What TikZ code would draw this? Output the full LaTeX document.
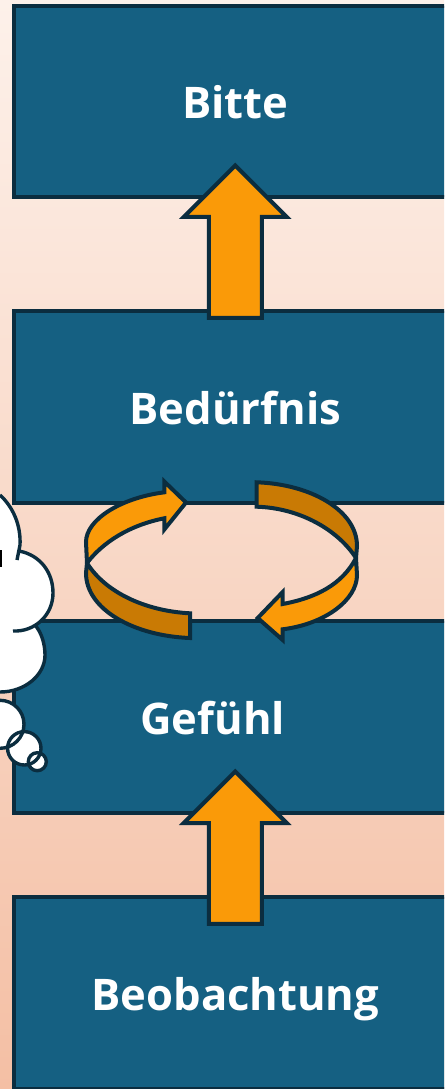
\documentclass[tikz,border=0pt]{standalone}
\usepackage{fontspec}
\setmainfont{Open Sans}
\usetikzlibrary{arrows.meta,positioning,shapes.arrows}
\definecolor{boxblue}{HTML}{156082}
\definecolor{darkline}{HTML}{0B2D3F}
\definecolor{arrorange}{HTML}{FA9A08}
\definecolor{arrdark}{HTML}{C97A04}
\definecolor{bgtop}{HTML}{FDF1EA}
\definecolor{bgbottom}{HTML}{F4BFA4}

\begin{document}
\begin{tikzpicture}[
			x=0.02cm,y=-0.02cm,
			level/.style={draw=darkline,line width=0.08cm,fill=boxblue,text=white,font=\fontsize{24.8}{28}\selectfont\bfseries,minimum width=8.85cm,minimum height=3.83cm,text height=0.68cm,text depth=0cm,inner sep=0pt,outer sep=0pt},
			uparr/.style={single arrow,draw=darkline,line width=0.08cm,fill=arrorange,shape border rotate=90,single arrow tip angle=90,single arrow head extend=0.5cm,single arrow head indent=0cm,minimum width=2cm,minimum height=3.05cm,inner sep=0.49cm,outer sep=0pt,anchor=tip},
			ring/.style={draw=darkline,line width=0.08cm,line join=miter,fill=arrorange},
			ringdark/.style={ring,fill=arrdark},
			cloudline/.style={draw=darkline,line width=0.068cm}
			]
			\clip (0,0) rectangle (444,1089);
			\shade[top color=bgtop,bottom color=bgbottom] (0,0) rectangle (444,1089);
			\node[level] (bitte) at (235.3,101.7) {Bitte};
			\node[level] (beduerfnis) [below=2.28cm of bitte] {Bedürfnis};
			\node[level] (gefuehl) [below=2.37cm of beduerfnis] {Gefühl\hspace*{0.9cm}};
			\node[level] (beob) [below=1.69cm of gefuehl] {Beobachtung};
			\node[uparr] (arrtop) at (235.3,165.5) {};
			\node[uparr] (arrbottom) at (235.3,771.5) {};
			\draw[ringdark] (87,563) .. controls (105,592) and (145,611) .. (190,613.3) -- (190,638) .. controls (135,636) and (86,610) .. (86,573) -- cycle;
			\draw[ring] (164.3,492.3) .. controls (120,498) and (86,520) .. (86,542) -- (87,563) .. controls (103,542) and (130,525) .. (164.3,518.3) -- (164.3,529.5) -- (186,502.5) -- (164.3,481.5) -- cycle;
			\draw[ringdark] (256.7,482.3) .. controls (310,484) and (357,510) .. (357,546) -- (356,558) .. controls (338,530) and (300,508) .. (256.7,506.7) -- cycle;
			\draw[ring] (356,558) .. controls (342,585) and (315,598) .. (282.7,604) -- (282.7,592) -- (257.7,618) -- (282.7,640) -- (282.7,629.3) .. controls (325,624) and (357,600) .. (357,575) -- cycle;
			\fill[white] (0,495) .. controls (13,507) and (21,525) .. (20,545) -- (19,551) .. controls (40,555) and (53,572) .. (53,593) .. controls (53,610) and (45,620) .. (35,625) .. controls (42,633) and (45,645) .. (45,655) .. controls (45,675) and (25,692) .. (0,692) -- cycle;
			\fill[white] (0,724.3) circle[radius=24];
			\fill[white] (24.3,748.3) circle[radius=16.7];
			\fill[white] (37.3,761.7) circle[radius=9];
			\draw[cloudline] (0,495) .. controls (13,507) and (21,525) .. (20,545) -- (17,560);
			\draw[cloudline] (19,551) .. controls (40,555) and (53,572) .. (53,593) .. controls (53,615) and (35,632) .. (13,631);
			\draw[cloudline] (35,625) .. controls (42,633) and (45,645) .. (45,655) .. controls (45,675) and (25,692) .. (0,692);
			\draw[cloudline] (0,724.3) circle[radius=24];
			\draw[cloudline] (24.3,748.3) circle[radius=16.7];
			\draw[cloudline] (37.3,761.7) circle[radius=9];
			\fill[black] (0,550) rectangle (1.8,567);
		\end{tikzpicture}
\end{document}
